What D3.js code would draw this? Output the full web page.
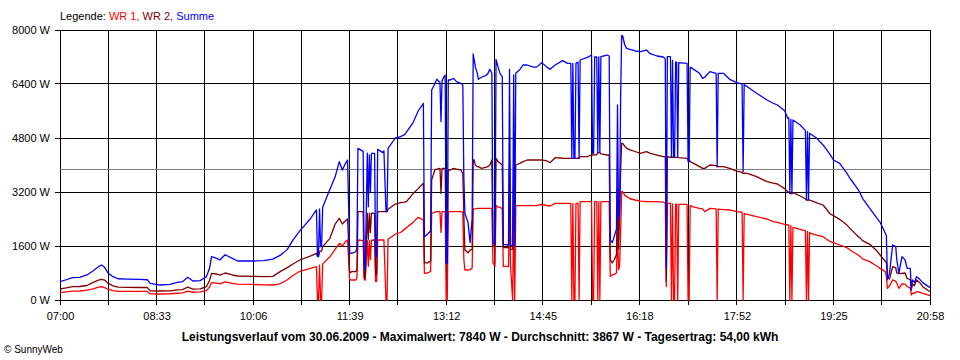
<!DOCTYPE html>
<html><head><meta charset="utf-8">
<script src="https://cdn.jsdelivr.net/npm/d3@7"></script>
<style>
body{margin:0;background:#fff}
svg text{font-family:"Liberation Sans",Arial,sans-serif;fill:#000}
</style>
</head><body><svg id="c" width="960" height="360"></svg>
<script>
const times=["07:00","07:06","07:12","07:19","07:26","07:32","07:37","07:40","07:43","07:46","07:51","07:56","08:05","08:17","08:24","08:27","08:36","08:46","08:53","08:58","09:03","09:08","09:15","09:21","09:24","09:26","09:31","09:34","09:39","09:46","09:51","10:06","10:16","10:25","10:32","10:39","10:44","10:51","11:01","11:07","11:08","11:09","11:10","11:11","11:12","11:13","11:20","11:25","11:29","11:32","11:35","11:37","11:38","11:39","11:41","11:45","11:46","11:47","11:52","11:53","11:54","11:56","11:57","11:58","11:59","12:00","12:03","12:04","12:05","12:06","12:11","12:12","12:14","12:15","12:16","12:23","12:28","12:32","12:34","12:40","12:45","12:50","12:51","12:54","12:57","12:58","13:01","13:03","13:06","13:07","13:08","13:10","13:11","13:12","13:13","13:14","13:16","13:19","13:22","13:26","13:28","13:29","13:30","13:33","13:35","13:37","13:38","13:39","13:40","13:42","13:43","13:46","13:50","13:52","13:54","13:56","13:57","13:59","14:00","14:02","14:04","14:06","14:07","14:12","14:13","14:14","14:16","14:17","14:18","14:19","14:23","14:26","14:30","14:36","14:39","14:44","14:49","14:52","14:57","15:04","15:09","15:12","15:13","15:14","15:15","15:16","15:17","15:19","15:20","15:21","15:28","15:32","15:33","15:34","15:35","15:37","15:38","15:39","15:40","15:41","15:47","15:49","15:50","15:52","15:54","15:56","15:57","15:58","15:59","16:00","16:01","16:02","16:04","16:06","16:09","16:14","16:19","16:25","16:28","16:35","16:41","16:43","16:44","16:45","16:48","16:49","16:50","16:51","16:52","16:53","16:54","16:55","16:56","17:04","17:05","17:06","17:07","17:09","17:16","17:19","17:21","17:26","17:32","17:33","17:34","17:39","17:45","17:52","17:57","17:58","17:59","18:02","18:11","18:21","18:27","18:31","18:38","18:41","18:42","18:43","18:44","18:45","18:46","18:53","18:58","18:59","19:00","19:01","19:02","19:03","19:09","19:15","19:22","19:25","19:31","19:38","19:41","19:48","19:51","19:53","20:00","20:07","20:10","20:12","20:15","20:16","20:17","20:19","20:22","20:25","20:26","20:28","20:31","20:34","20:36","20:39","20:40","20:41","20:43","20:45","20:48","20:51","20:58"];

const wr1=[217,240,262,267,290,330,380,395,370,320,280,255,255,255,255,180,178,185,200,210,260,230,240,276,380,514,500,480,540,494,470,460,450,444,480,600,720,850,940,990,0,0,1030,0,0,1070,1284,1500,1680,1600,1730,1778,1200,600,593,593,650,1778,1760,600,593,1760,1000,1760,1200,1770,1778,550,550,1778,1778,1778,0,0,1800,1950,2000,2100,2150,2300,2450,2370,790,800,850,2568,2600,2617,2617,2000,2617,2617,2617,0,0,2617,2617,2617,2617,2617,2600,1200,889,889,900,950,2700,2700,2700,2716,2716,2716,2716,2716,2716,2716,1100,1000,2800,2750,2750,2700,1000,988,2750,988,0,2700,0,2795,2795,2795,2795,2795,2795,2834,2800,2785,2864,2864,2864,2864,0,2864,0,0,2864,2864,0,2914,2914,2914,0,0,2914,2914,0,2914,0,2914,2914,2914,700,741,760,800,2000,900,1000,2000,3210,3210,3100,3062,3000,2963,2930,2914,2914,2914,2900,2880,400,2864,2864,0,2850,0,0,2840,2840,0,2834,2834,0,0,2800,2766,2716,2700,2617,2716,2700,0,2690,2680,2667,2617,2600,0,2560,2538,2469,2400,2321,2300,2240,2222,2222,0,2200,0,2150,2093,2050,0,2030,0,2000,1975,1920,1876,1728,1700,1630,1550,1481,1350,1284,1220,1136,1000,938,900,839,700,346,420,593,560,500,346,474,470,400,350,148,200,200,247,230,198,128];

const wr2=[326,360,395,400,430,520,590,612,590,500,420,380,376,370,370,270,267,270,300,310,380,320,330,395,580,790,770,740,800,741,711,700,691,700,840,960,1060,1185,1300,1380,1300,1300,1420,1450,1450,1580,1827,2250,2420,2250,2350,2400,1700,800,840,840,900,2617,2617,700,650,2570,1800,2570,2000,2570,2568,750,750,2617,2617,2617,2617,2617,2686,2844,2884,2900,2920,3150,3300,3457,1100,1100,1150,3556,3852,3880,3901,3160,3901,3901,3901,1100,1100,3852,3852,3901,3880,3852,3750,2500,1480,1400,1480,1500,4148,4148,4000,3951,3951,3901,3930,3951,4000,4148,1600,1600,4197,4100,4049,4000,1550,1550,4000,1500,1500,4000,1600,4000,4050,4100,4148,4148,4148,4150,4120,4069,4217,4200,4197,4197,4197,4197,4197,4197,4197,4200,4200,4247,4247,4296,4296,4296,4300,4300,4366,4366,4366,4330,4296,4296,1200,1100,1200,1350,3300,1500,2469,3800,4642,4642,4550,4494,4450,4400,4346,4395,4350,4296,4247,4247,550,4247,4230,4230,4230,4230,4227,4227,4227,4227,4220,4197,4150,4150,4100,4069,3950,3901,3901,4000,3980,3951,3951,3951,3901,3820,3780,3750,3760,3753,3654,3506,3460,3437,3300,3210,3200,3160,3150,3150,3180,3081,3000,2963,2963,2963,2963,2950,2880,2815,2548,2500,2390,2220,2123,1900,1827,1760,1649,1450,1333,1250,1150,1100,700,620,988,950,800,780,790,800,640,600,296,480,420,593,520,395,247];

const summe=[542,600,662,672,741,869,988,1037,968,810,691,630,620,610,600,494,444,464,523,543,672,563,573,691,938,1284,1235,1185,1340,1235,1156,1156,1165,1210,1320,1500,1760,2050,2400,2667,1284,1284,2700,1580,1580,2750,3280,3650,4099,3852,4049,4148,2815,1400,1383,1430,1550,4494,4405,1100,900,4350,2765,4300,3200,4346,4346,1284,1284,4464,4366,4420,2617,2617,4494,4800,4839,4900,4987,5250,5600,5827,1876,1950,2050,6222,6400,6539,6440,5284,6500,6618,6667,1086,1100,6519,6519,6568,6469,6420,6370,3600,2568,2300,1700,2400,7289,7111,6914,6716,6539,6600,6650,6700,6835,6720,1700,1650,7131,6900,6700,6618,1650,1630,6835,1630,1600,6667,1600,6716,6830,6963,6963,6900,6900,7032,6900,6835,6963,7091,7012,7012,4197,7012,4197,4197,7012,7050,4200,7111,7190,7259,4346,4346,7200,7200,4366,7200,4366,7210,7259,7230,1778,1700,1900,2100,5778,2400,2600,6000,7840,7822,7556,7450,7427,7378,7358,7407,7308,7230,7200,7150,948,7210,7210,4247,7100,4247,4247,7050,7050,4247,7032,7012,4100,4100,6900,6864,6716,6568,6600,6765,6716,3951,6716,6716,6539,6440,6400,3800,6380,6321,6124,5926,5830,5778,5610,5383,5400,3160,5350,3150,5333,5185,5017,2963,4990,2963,4940,4918,4790,4593,4300,4148,4049,3753,3600,3309,3150,3012,2716,2420,2300,2173,1975,1900,600,790,1630,1580,1200,790,1284,1185,938,938,296,593,520,691,620,514,366];

const yTicks=[0,1600,3200,4800,6400,8000];
const xTickLabels=["07:00","08:33","10:06","11:39","13:12","14:45","16:18","17:52","19:25","20:58"];
const average=3867;
const seriesNames=["WR 1","WR 2","Summe"];
const seriesColors=["#ff0000","#800000","#0000ff"];
const titleText="Leistungsverlauf vom 30.06.2009 - Maximalwert: 7840 W - Durchschnitt: 3867 W - Tagesertrag: 54,00 kWh";
const footerText="\u00a9 SunnyWeb";

const toMin=s=>{const [h,m]=s.split(":").map(Number);return h*60+m;};
const svg=d3.select("#c");
const L=60,R=930,T=30,B=300;
const labelMins=xTickLabels.map(toMin);
const x=d3.scaleLinear().domain([labelMins[0],labelMins[labelMins.length-1]]).range([L,R]);
const y=d3.scaleLinear().domain([0,8000]).range([B,T]);
const allTicks=[];
labelMins.forEach((m,i)=>{allTicks.push(m);if(i<labelMins.length-1)allTicks.push((m+labelMins[i+1])/2);});
const crisp=v=>Math.floor(v)+0.5;

// grid
const g=svg.append("g").attr("shape-rendering","crispEdges");
g.selectAll(".hg").data(yTicks).join("line")
 .attr("x1",L-5).attr("x2",R+0.5).attr("y1",d=>crisp(y(d))).attr("y2",d=>crisp(y(d)))
 .attr("stroke","#000");
g.selectAll(".vg").data(allTicks).join("line")
 .attr("x1",d=>crisp(x(d))).attr("x2",d=>crisp(x(d))).attr("y1",T).attr("y2",B+5)
 .attr("stroke","#000");
g.append("line").attr("x1",L).attr("x2",R).attr("y1",crisp(y(average))).attr("y2",crisp(y(average)))
 .attr("stroke","#808080");

// axes labels
const yAxis=d3.axisLeft(y).tickValues(yTicks).tickSize(5).tickPadding(5).tickFormat(d=>d+" W");
const ya=svg.append("g").attr("transform",`translate(${L},0)`).call(yAxis);
ya.select(".domain").remove(); ya.selectAll(".tick line").remove();
ya.selectAll("text").attr("font-size",11).style("font-family","'Liberation Sans',Arial,sans-serif");

const xAxis=d3.axisBottom(x).tickValues(labelMins).tickSize(5).tickPadding(7).tickFormat((d,i)=>xTickLabels[i]);
const xa=svg.append("g").attr("transform",`translate(0,${B})`).call(xAxis);
xa.select(".domain").remove(); xa.selectAll(".tick line").remove();
xa.selectAll("text").attr("font-size",11).style("font-family","'Liberation Sans',Arial,sans-serif");

// lines
const tm=times.map(toMin);
const seriesData=[wr1,wr2,summe];
const line=d3.line().x(d=>x(d[0])).y(d=>y(d[1]));
seriesData.forEach((vals,si)=>{
  svg.append("path").datum(tm.map((t,i)=>[t,vals[i]]))
   .attr("d",line).attr("fill","none").attr("stroke",seriesColors[si])
   .attr("stroke-width",1.3).attr("stroke-linejoin","round");
});

// legend
const lt=svg.append("text").attr("x",60).attr("y",20).attr("font-size",11);
lt.append("tspan").text("Legende: ");
seriesNames.forEach((n,i)=>{
  lt.append("tspan").style("fill",seriesColors[i]).text(n+(i<seriesNames.length-1?", ":""));
});

// title & footer
svg.append("text").attr("x",480).attr("y",341).attr("text-anchor","middle")
 .attr("font-size",12).attr("font-weight","bold").text(titleText);
svg.append("text").attr("x",4).attr("y",353).attr("font-size",10).text(footerText);
</script>
</body></html>
